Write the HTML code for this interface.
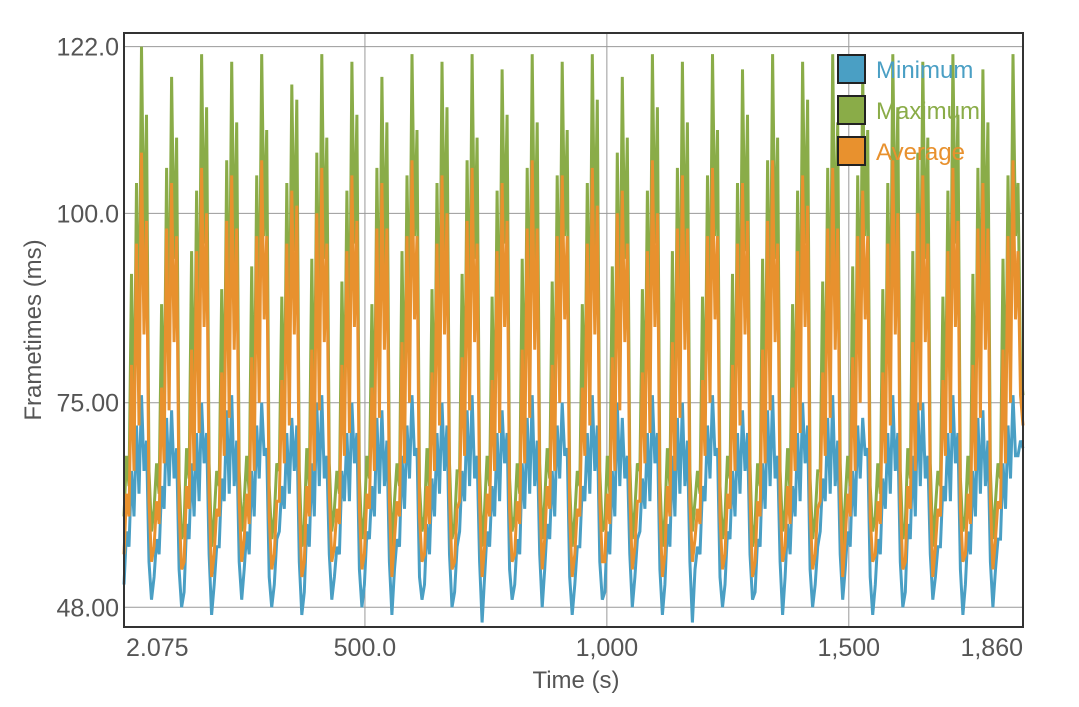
<!DOCTYPE html>
<html><head><meta charset="utf-8"><style>
body{margin:0;background:#fff;}
svg text{font-family:"Liberation Sans",sans-serif;}
</style></head><body>
<svg id="chart" width="1079" height="702">
<g id="grid"></g><g id="series"></g><g id="axes"></g><g id="legend"></g>
</svg>
<script>
const xTicks=[2.075,500,1000,1500,1860];
const xTickLabels=["2.075","500.0","1,000","1,500","1,860"];
const yTicks=[48,75,100,122];
const yTickLabels=["48.00","75.00","100.0","122.0"];
const seriesNames=["Minimum","Maximum","Average"];
const maxValues=[
 60,68,64,92,70,104,80,122,95,113,66,58,
 61,67,63,88,72,106,82,118,94,110,65,57,
 59,69,65,95,71,103,79,121,96,114,67,56,
 60,66,64,90,73,107,81,120,93,112,66,58,
 62,68,63,93,70,105,83,121,97,111,64,57,
 60,67,66,89,72,104,80,117,95,115,66,56,
 59,69,64,94,71,108,82,121,94,110,67,58,
 61,66,63,91,73,103,79,120,96,113,65,57,
 60,68,65,88,70,106,81,118,93,112,66,56,
 62,67,64,95,72,105,83,121,97,111,64,58,
 60,69,63,90,71,104,80,120,95,114,67,57,
 59,66,66,92,73,107,82,121,94,110,66,56,
 61,68,64,89,70,103,79,119,96,113,65,58,
 60,67,63,94,72,106,81,121,93,112,67,57,
 62,69,65,91,71,105,83,120,97,111,64,56,
 60,66,64,88,73,104,80,121,95,115,66,58,
 59,68,63,93,70,108,82,118,94,110,67,57,
 61,67,66,90,72,103,79,121,96,114,65,56,
 60,69,64,95,71,106,81,120,93,112,66,58,
 62,66,63,89,73,105,83,121,97,111,64,57,
 60,68,65,92,70,104,80,119,95,113,67,56,
 59,67,64,94,72,107,82,121,94,110,66,58,
 61,69,63,88,71,103,79,120,96,115,65,57,
 60,66,66,91,73,106,81,121,93,112,67,56,
 62,68,64,93,70,105,83,118,97,111,64,58,
 60,67,63,90,72,104,80,121,95,114,66,57,
 59,69,65,95,71,108,82,120,94,110,67,56,
 61,66,64,89,73,103,79,121,96,113,65,58,
 60,68,63,92,70,106,81,119,93,112,66,57,
 62,67,65,94,72,105,83,121,97,104,80,76];
const avgValues=[
 55,63,60,80,66,96,72,108,84,99,62,54,
 56,62,59,77,67,98,74,104,83,97,61,53,
 54,64,61,82,66,95,71,106,85,100,63,52,
 55,61,60,79,68,99,73,105,82,98,62,54,
 57,63,59,81,66,97,75,107,86,97,60,53,
 55,62,62,78,67,96,72,103,84,101,62,52,
 54,64,60,82,66,100,74,106,83,96,63,54,
 56,61,59,80,68,95,71,105,85,99,61,53,
 55,63,61,77,66,98,73,104,82,98,62,52,
 57,62,60,83,67,97,75,107,86,97,60,54,
 55,64,59,79,66,96,72,105,84,100,63,53,
 54,61,62,81,68,99,74,106,83,96,62,52,
 56,63,60,78,66,95,71,104,85,99,61,54,
 55,62,59,82,67,98,73,107,82,98,63,53,
 57,64,61,80,66,97,75,105,86,97,60,52,
 55,61,60,77,68,96,72,106,84,101,62,54,
 54,63,59,81,66,100,74,103,83,96,63,53,
 56,62,62,79,67,95,71,107,85,100,61,52,
 55,64,60,83,66,98,73,105,82,98,62,54,
 57,61,59,78,68,97,75,106,86,97,60,53,
 55,63,61,80,66,96,72,104,84,99,63,52,
 54,62,60,82,67,99,74,107,83,96,62,54,
 56,64,59,77,66,95,71,105,85,101,61,53,
 55,61,62,79,68,98,73,106,82,98,63,52,
 57,63,60,81,66,97,75,103,86,97,60,54,
 55,62,59,79,67,96,72,107,84,100,62,53,
 54,64,61,83,66,100,74,105,83,96,63,52,
 56,61,60,78,68,95,71,106,85,99,61,54,
 55,63,59,80,66,98,73,104,82,98,62,53,
 57,62,61,82,67,97,75,107,86,95,76,72];
const minValues=[
 51,58,56,66,60,72,63,76,66,70,54,49,
 52,57,55,64,61,73,64,74,65,69,53,48,
 50,59,57,67,60,71,62,75,67,71,55,47,
 51,56,56,65,62,74,63,76,64,70,54,49,
 53,58,55,66,60,72,65,75,68,69,52,48,
 51,57,58,64,61,71,63,73,66,72,54,47,
 50,59,56,67,60,75,64,76,65,68,55,49,
 52,56,55,66,62,71,62,75,67,71,53,48,
 51,58,57,64,60,73,63,74,64,70,54,47,
 53,57,56,68,61,72,65,76,68,69,52,49,
 51,59,55,65,60,71,63,75,66,72,55,48,
 50,56,58,66,62,74,64,76,65,68,54,46,
 52,58,56,64,60,71,62,74,67,71,53,49,
 51,57,55,67,61,73,63,76,64,70,55,48,
 53,59,57,66,60,72,65,75,68,69,52,47,
 51,56,56,64,62,71,63,76,66,72,54,49,
 50,58,55,66,60,75,64,73,65,68,55,48,
 52,57,58,65,61,71,62,76,67,71,53,47,
 51,59,56,68,60,73,63,75,64,70,54,46,
 53,56,55,64,62,72,65,76,68,69,52,48,
 51,58,57,66,60,71,63,74,66,71,55,49,
 50,57,56,67,61,74,64,76,65,68,54,47,
 52,59,55,64,60,71,62,75,67,72,53,48,
 51,56,58,65,62,73,63,76,64,70,55,49,
 53,58,56,66,60,72,65,73,68,69,52,47,
 51,57,55,65,61,71,63,76,66,71,54,48,
 50,59,57,68,60,75,64,75,65,68,55,49,
 52,56,56,64,62,71,62,76,67,71,53,47,
 51,58,55,66,60,73,63,74,64,70,54,48,
 53,57,57,67,61,72,65,76,68,68,70,69];
const colors=["#4a9fc4","#8aac48","#e8912e"];
const L=124,R=1023,T=33,B=627;
const xMin=2.075,xMax=1860,yMin=45.4,yMax=123.8;
const xs=v=>L+(v-xMin)/(xMax-xMin)*(R-L);
const ys=v=>B-(v-yMin)/(yMax-yMin)*(B-T);
const NS="http://www.w3.org/2000/svg";
function mk(tag,at,parent){const e=document.createElementNS(NS,tag);for(const k in at)e.setAttribute(k,at[k]);parent.appendChild(e);return e;}
const grid=document.getElementById('grid'),axes=document.getElementById('axes'),ser=document.getElementById('series'),leg=document.getElementById('legend');
yTicks.forEach((t,i)=>{
 const g=mk('line',{x1:L,x2:R,y1:ys(t),y2:ys(t),stroke:'#999','stroke-width':1},grid);
 
 
 const tx=mk('text',{x:119,y:ys(t)+9,'text-anchor':'end','font-size':25,fill:'#555'},axes);
 tx.textContent=yTickLabels[i];
 
 
});
xTicks.forEach((t,i)=>{
 if(i>0&&i<xTicks.length-1){
  const g=mk('line',{x1:xs(t),x2:xs(t),y1:T,y2:B,stroke:'#999','stroke-width':1},grid);
  
  
 }
 const anchor=i==0?'start':(i==xTicks.length-1?'end':'middle');
 const tx=mk('text',{x:xs(t)+(i==0?2:0),y:656,'text-anchor':anchor,'font-size':25,fill:'#555'},axes);
 tx.textContent=xTickLabels[i];
 
 
});
[minValues,maxValues,avgValues].forEach((arr,si)=>{
 const n=arr.length;
 const pts=arr.map((v,i)=>xs(xMin+(xMax-xMin)*i/(n-1)).toFixed(1)+','+ys(v).toFixed(1)).join(' ');
 const p=mk('polyline',{points:pts,fill:'none',stroke:colors[si],'stroke-width':3,'stroke-linejoin':'miter'},ser);
 
 
});
const fr=mk('rect',{x:L,y:T,width:R-L,height:B-T,fill:'none',stroke:'#333','stroke-width':2},axes);


const yt=mk('text',{x:0,y:0,transform:'translate(41,330) rotate(-90)','text-anchor':'middle','font-size':24,fill:'#555'},axes);
yt.textContent='Frametimes (ms)';


const xt=mk('text',{x:576,y:688,'text-anchor':'middle','font-size':24,fill:'#555'},axes);
xt.textContent='Time (s)';


const legOrder=[["Minimum","#4a9fc4"],["Maximum","#8aac48"],["Average","#e8912e"]];
legOrder.forEach((e,i)=>{
 const y=55+i*41;
 const r=mk('rect',{x:838,y:y,width:27,height:28,fill:e[1],stroke:'#222','stroke-width':2},leg);
 
 
 const t=mk('text',{x:876,y:y+23,'font-size':24,fill:e[1]},leg);
 t.textContent=e[0];
 
 
});
</script>
</body></html>
